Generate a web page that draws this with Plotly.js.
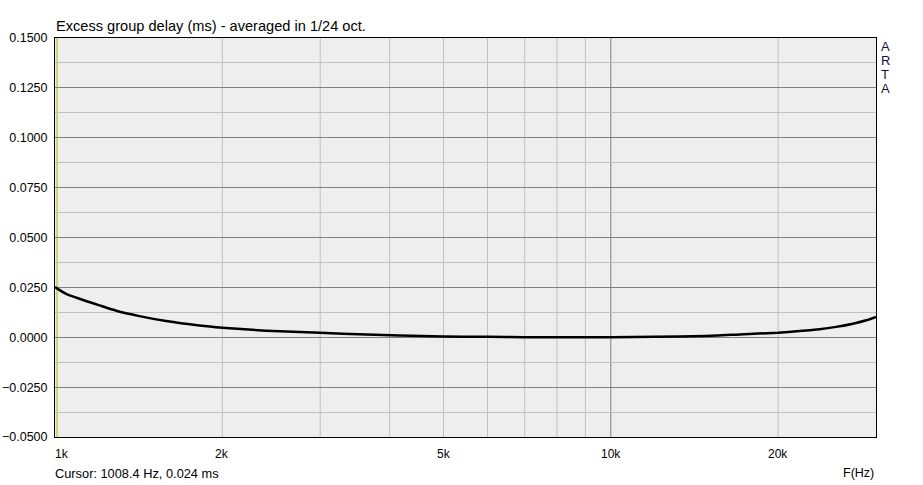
<!DOCTYPE html>
<html>
<head>
<meta charset="utf-8">
<script src="https://cdn.plot.ly/plotly-3.0.1.min.js"></script>
<style>html,body{margin:0;padding:0;background:#fff;}#chart{width:923px;height:485px;}</style>
</head>
<body>
<div id="chart"></div>
<script>
// Data (frequency in Hz, excess group delay in ms)
var freqHz = [1000, 1008, 1047, 1107, 1202, 1289, 1419, 1585, 1819, 2000, 2398, 3000, 3630, 4170, 5000, 6000, 7000, 8000, 9000, 10000, 12000, 14750, 17040, 20000, 21850, 23750, 25440, 27260, 28820, 30000];
var delayMs = [0.0252, 0.0245, 0.0218, 0.0193, 0.0160, 0.0133, 0.0106, 0.0081, 0.0059, 0.0048, 0.0033, 0.0022, 0.0014, 0.0009, 0.0004, 0.0002, 0.0000, 0.0000, 0.0000, 0.0000, 0.0003, 0.0006, 0.0014, 0.0023, 0.0031, 0.0040, 0.0052, 0.0068, 0.0085, 0.0102];

var xTickVals = [1000, 2000, 5000, 10000, 20000];
var xTickText = ['1k', '2k', '5k', '10k', '20k'];
var xGridVals = [2000, 3000, 4000, 5000, 6000, 7000, 8000, 9000, 10000, 20000];
var xMajorGrid = [10000];
var cursorFreq = 1008.4;
var titleText = 'Excess group delay (ms) - averaged in 1/24 oct.';
var cursorText = 'Cursor: 1008.4 Hz, 0.024 ms';
var xAxisLabel = 'F(Hz)';
var brandLetters = ['A', 'R', 'T', 'A'];

var FONT = 'Liberation Sans, Arial, sans-serif';

var shapes = [];
xGridVals.forEach(function (f) {
  var major = xMajorGrid.indexOf(f) >= 0;
  shapes.push({type: 'line', xref: 'x', yref: 'paper', x0: f, x1: f, y0: 0, y1: 1,
    line: {color: major ? '#808080' : '#c0c0c0', width: 1}, layer: 'below'});
});
shapes.push({type: 'line', xref: 'x', yref: 'paper', x0: cursorFreq, x1: cursorFreq, y0: 0, y1: 1,
  line: {color: '#b8b000', width: 1}, layer: 'below'});

var annotations = [];
xTickVals.forEach(function (v, i) {
  annotations.push({xref: 'x', yref: 'paper', x: Math.log10(v), y: 0, yshift: -17,
    xshift: i === 0 ? -2 : 0,
    text: xTickText[i], showarrow: false, xanchor: i === 0 ? 'left' : 'center', yanchor: 'middle',
    font: {family: FONT, size: 12, color: '#000'}});
});
annotations.push({xref: 'paper', yref: 'paper', x: 0, xshift: -1, y: 1, yshift: 12, text: titleText,
  showarrow: false, xanchor: 'left', yanchor: 'middle', font: {family: FONT, size: 14.6, color: '#000'}});
annotations.push({xref: 'paper', yref: 'paper', x: 0, xshift: -2, y: 0, yshift: -36, text: cursorText,
  showarrow: false, xanchor: 'left', yanchor: 'middle', font: {family: FONT, size: 12.8, color: '#000'}});
annotations.push({xref: 'paper', yref: 'paper', x: 1, y: 0, yshift: -36, text: xAxisLabel,
  showarrow: false, xanchor: 'right', yanchor: 'middle', font: {family: FONT, size: 12.5, color: '#000'}});
brandLetters.forEach(function (ch, i) {
  annotations.push({xref: 'paper', yref: 'paper', x: 1, xshift: 9, y: 1, yshift: -8 - 14 * i, text: ch,
    showarrow: false, xanchor: 'center', yanchor: 'middle', font: {family: FONT, size: 13, color: '#101040'}});
});

var trace = {
  x: freqHz, y: delayMs, type: 'scatter', mode: 'lines',
  line: {color: '#000000', width: 2.5, shape: 'spline', smoothing: 0.6},
  hoverinfo: 'skip'
};

var layout = {
  width: 923, height: 485,
  margin: {l: 55, r: 47, t: 38, b: 48, pad: 0},
  paper_bgcolor: '#ffffff', plot_bgcolor: '#eeeeee',
  showlegend: false,
  font: {family: FONT, size: 12, color: '#000'},
  xaxis: {
    type: 'log', range: [3, Math.log10(30000)], showgrid: false, zeroline: false,
    showticklabels: false, ticks: '',
    showline: true, mirror: true, linecolor: '#000', linewidth: 1
  },
  yaxis: {
    range: [-0.05, 0.15], dtick: 0.025, tick0: 0, tickformat: '.4f',
    showgrid: true, gridcolor: '#808080', gridwidth: 1, zeroline: false,
    minor: {dtick: 0.0125, tick0: 0, showgrid: true, gridcolor: '#c0c0c0', gridwidth: 1, ticks: ''},
    ticks: '', ticklabelstandoff: 4,
    showline: true, mirror: true, linecolor: '#000', linewidth: 1,
    tickfont: {family: FONT, size: 12.5, color: '#000'}
  },
  shapes: shapes,
  annotations: annotations
};

Plotly.newPlot('chart', [trace], layout, {staticPlot: true, displayModeBar: false});
</script>
</body>
</html>
